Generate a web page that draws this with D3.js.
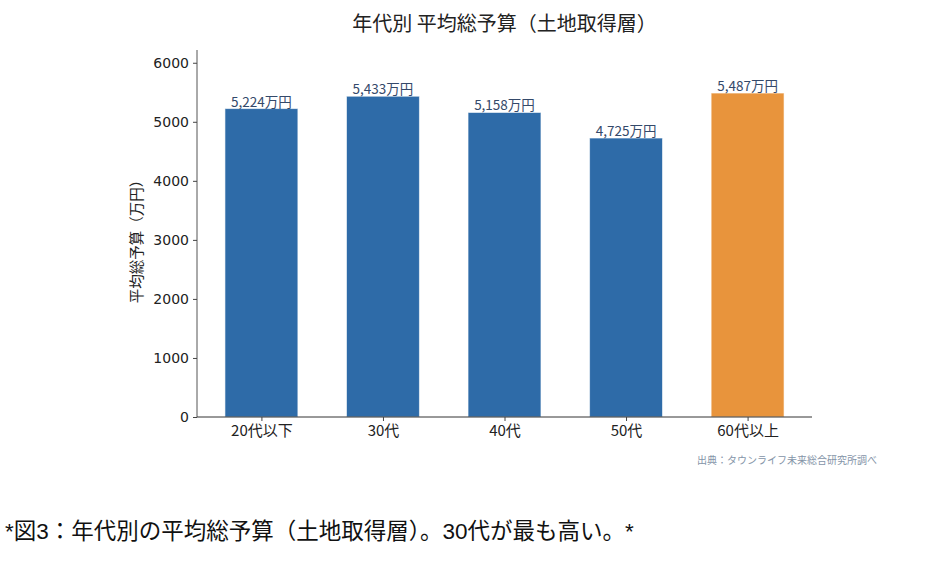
<!DOCTYPE html>
<html>
<head>
<meta charset="utf-8">
<script src="https://cdn.jsdelivr.net/npm/d3@7"></script>
<style>
  body { margin: 0; background: #fff; }
  svg text { font-family: "Noto Sans CJK JP", "Noto Sans", sans-serif; }
</style>
</head>
<body>
<div id="chart"></div>
<script>
// data
const categories = ["20代以下", "30代", "40代", "50代", "60代以上"];
const budgets = [5224, 5433, 5158, 4725, 5487];
const highlight = [false, false, false, false, true];
const yTicks = [0, 1000, 2000, 3000, 4000, 5000, 6000];

const width = 935;
const height = 561;
const margin = { top: 50, left: 197, right: 123, bottom: 144 };

const svg = d3
  .select("#chart")
  .append("svg")
  .attr("width", width)
  .attr("height", height);

// Scales
const x = d3
  .scaleLinear()
  .domain([-0.53, categories.length - 0.47])
  .range([margin.left, width - margin.right]);
const y = d3
  .scaleLinear()
  .domain([0, 6216])
  .range([height - margin.bottom, margin.top]);
const barW = (x(1) - x(0)) * 0.6;

// Bars
svg
  .selectAll("rect.bar")
  .data(budgets)
  .enter()
  .append("rect")
  .attr("class", "bar")
  .attr("x", (d, i) => x(i) - barW / 2)
  .attr("y", (d) => y(d))
  .attr("width", barW)
  .attr("height", (d) => y(0) - y(d))
  .attr("fill", (d, i) => (highlight[i] ? "#e8943c" : "#2e6ba8"))
  .attr("stroke", "#ffffff")
  .attr("stroke-opacity", 0.6)
  .attr("stroke-width", 1);

// Value labels
svg
  .selectAll("text.value")
  .data(budgets)
  .enter()
  .append("text")
  .attr("class", "value")
  .attr("x", (d, i) => x(i))
  .attr("y", (d) => y(d) - 2)
  .attr("text-anchor", "middle")
  .attr("font-size", "13.5px")
  .attr("fill", "#34496a")
  .text((d) => d3.format(",")(d) + "万円");

// Axes
const yAxis = svg
  .append("g")
  .attr("transform", `translate(${margin.left},0)`)
  .call(d3.axisLeft(y).tickValues(yTicks).tickSize(4).tickPadding(4).tickFormat(d3.format("d")));
yAxis.select(".domain").attr("stroke", "#555").attr("d", `M0,${y(0)}V${margin.top}`);
yAxis.selectAll(".tick line").attr("stroke", "#444");
yAxis.selectAll(".tick text")
  .attr("font-size", "14px")
  .attr("fill", "#222")
  .style("font-family", "'DejaVu Sans', sans-serif");

const xAxis = svg
  .append("g")
  .attr("transform", `translate(0,${y(0)})`)
  .call(
    d3.axisBottom(x)
      .tickValues(d3.range(categories.length))
      .tickSize(4)
      .tickPadding(4)
      .tickFormat((i) => categories[i])
  );
xAxis.select(".domain").attr("stroke", "#333").attr("d", `M${margin.left},0H${width - margin.right}`);
xAxis.selectAll(".tick line").attr("stroke", "#444");
xAxis.selectAll(".tick text").attr("font-size", "15px").attr("fill", "#222");

// Title
svg
  .append("text")
  .attr("x", (margin.left + width - margin.right) / 2)
  .attr("y", 31)
  .attr("text-anchor", "middle")
  .attr("font-size", "20px")
  .attr("fill", "#222")
  .text("年代別 平均総予算（土地取得層）");

// Y label
svg
  .append("text")
  .attr("transform", "translate(142,238) rotate(-90)")
  .attr("text-anchor", "middle")
  .attr("font-size", "14.5px")
  .attr("fill", "#222")
  .text("平均総予算（万円）");

// Source
svg
  .append("text")
  .attr("x", 877)
  .attr("y", 464)
  .attr("text-anchor", "end")
  .attr("font-size", "10px")
  .attr("fill", "#8494a8")
  .text("出典：タウンライフ未来総合研究所調べ");

// Caption
svg
  .append("text")
  .attr("x", 5)
  .attr("y", 539)
  .attr("font-size", "22.5px")
  .attr("fill", "#111")
  .style("font-family", "'Liberation Sans', 'Noto Sans CJK JP', sans-serif")
  .text("*図3：年代別の平均総予算（土地取得層）。30代が最も高い。*");
</script>
</body>
</html>
